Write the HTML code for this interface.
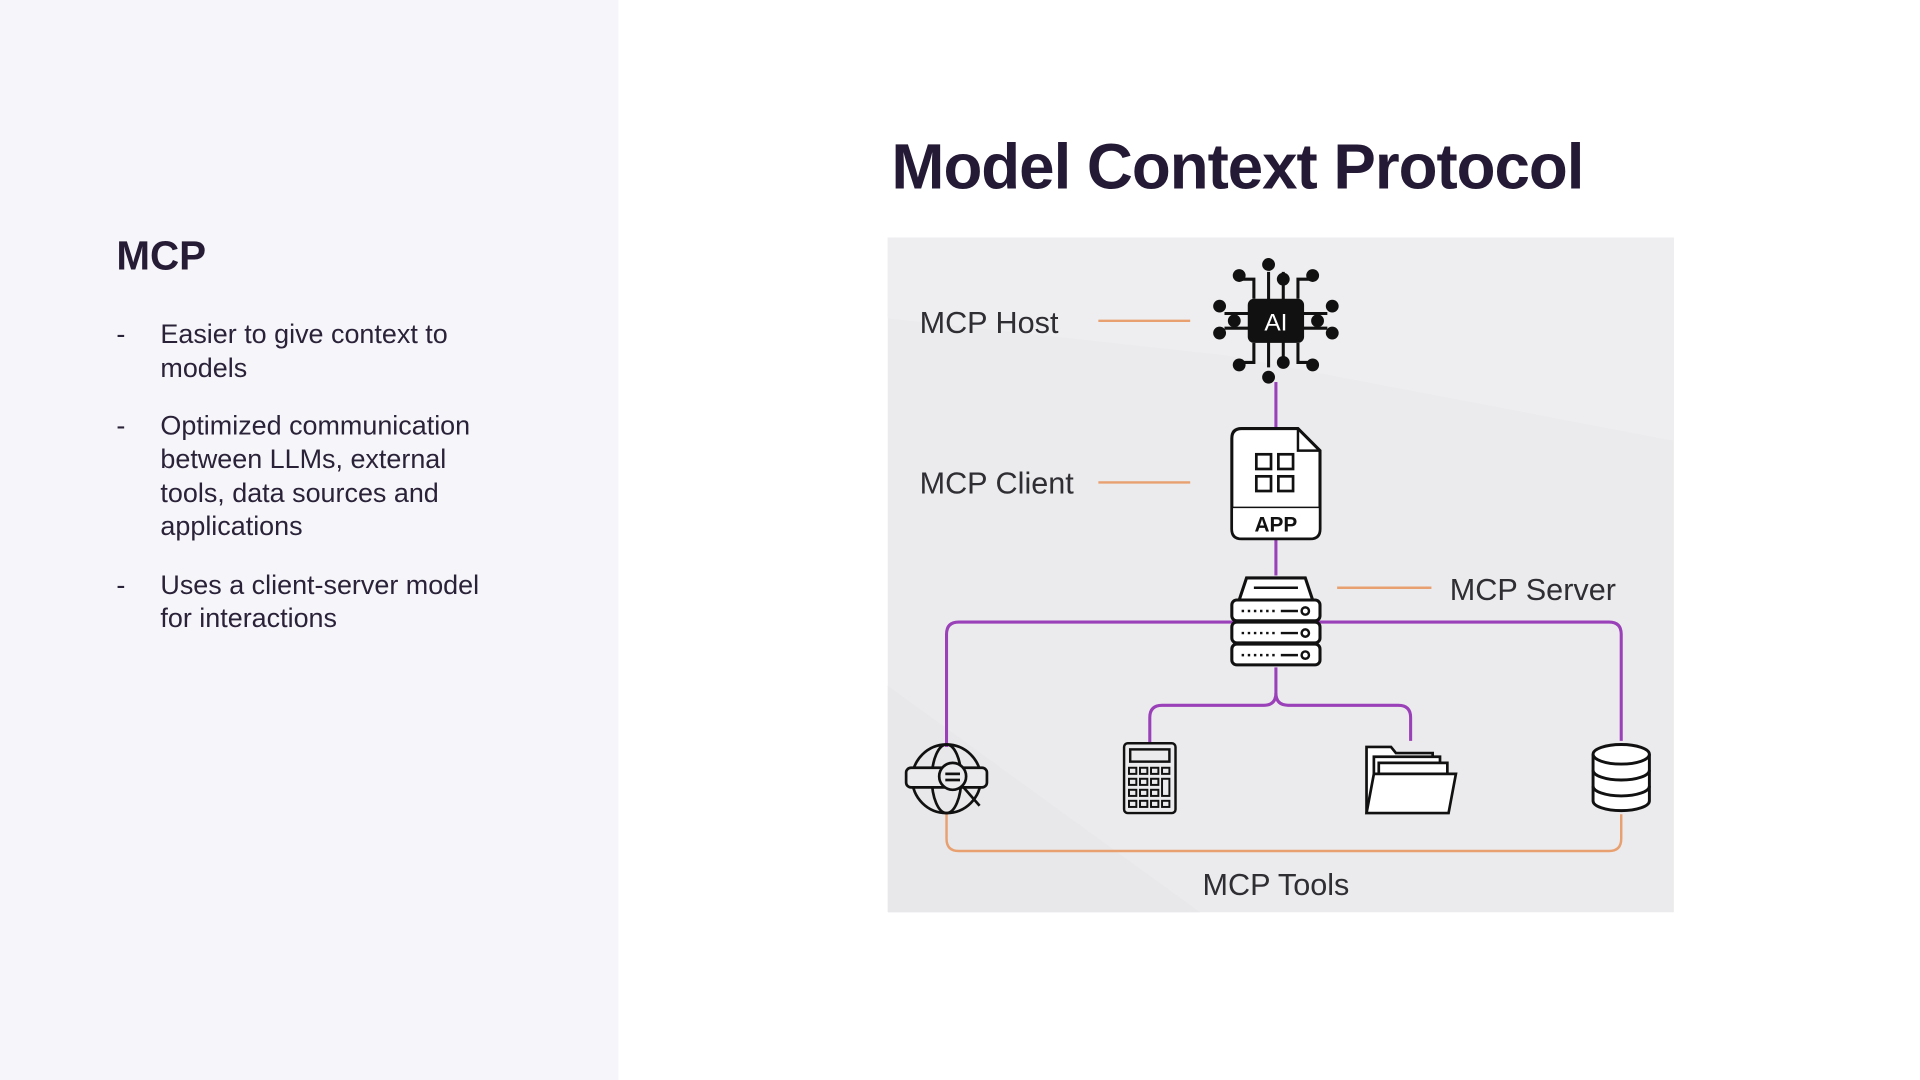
<!DOCTYPE html>
<html><head><meta charset="utf-8"><style>
html,body{margin:0;padding:0;background:#fff;}
svg{display:block;}
text{font-family:"Liberation Sans",sans-serif;}
</style></head><body>
<svg width="1920" height="1080" viewBox="0 0 1568 882" xmlns="http://www.w3.org/2000/svg">
<rect x="0" y="0" width="1568" height="882" fill="#ffffff"/>
<rect x="0" y="0" width="505" height="882" fill="#f6f5f9"/>
<text x="95" y="220" font-size="33" font-weight="bold" fill="#261c36">MCP</text>
<g font-size="22" fill="#2a2238">
<text x="95" y="280">-</text>
<text x="131" y="280">Easier to give context to</text>
<text x="131" y="308">models</text>
<text x="95" y="355">-</text>
<text x="131" y="355">Optimized communication</text>
<text x="131" y="382">between LLMs, external</text>
<text x="131" y="410">tools, data sources and</text>
<text x="131" y="437">applications</text>
<text x="95" y="485">-</text>
<text x="131" y="485">Uses a client-server model</text>
<text x="131" y="512">for interactions</text>
</g>
<text x="728" y="154" font-size="52" font-weight="bold" fill="#241a35" textLength="566">Model Context Protocol</text>

<rect x="725" y="194" width="642" height="551" fill="#ebebed"/>
<polygon points="725,194 1367,194 1367,360 1000,290 725,260" fill="#eeeef0"/>
<polygon points="725,560 980,745 725,745" fill="#e8e8ea"/>

<g font-size="25" fill="#2e2e33">
<text x="751" y="272">MCP Host</text>
<text x="751" y="403">MCP Client</text>
<text x="1184" y="490">MCP Server</text>
<text x="1042" y="731" text-anchor="middle">MCP Tools</text>
</g>
<g stroke="#e8a070" stroke-width="2" fill="none">
<line x1="897" y1="262" x2="972" y2="262"/>
<line x1="897" y1="394" x2="972" y2="394"/>
<line x1="1092" y1="480" x2="1169" y2="480"/>
<path d="M773 665 V685 Q773 695 783 695 H1314 Q1324 695 1324 685 V665"/>
</g>
<g stroke="#9a40b8" stroke-width="2.5" fill="none">
<line x1="1042" y1="312" x2="1042" y2="350"/>
<line x1="1042" y1="440" x2="1042" y2="470"/>
<path d="M773 610 V518 Q773 508 783 508 H1314 Q1324 508 1324 518 V605"/>
<path d="M1042 545 V566 Q1042 576 1032 576 H949 Q939 576 939 586 V607"/>
<path d="M1042 566 Q1042 576 1052 576 H1142 Q1152 576 1152 586 V605"/>
</g>

<!-- AI chip -->
<g stroke="#111" stroke-width="2.5" fill="#111">
<line x1="1036" y1="222" x2="1036" y2="300"/>
<line x1="1048" y1="222" x2="1048" y2="300"/>
<line x1="1000" y1="256" x2="1084" y2="256"/>
<line x1="1000" y1="268" x2="1084" y2="268"/>
<path d="M1024 244 V228 H1012 M1060 244 V228 H1072 M1024 280 V296 H1012 M1060 280 V296 H1072" fill="none"/>
<circle cx="1036" cy="216" r="4"/><circle cx="1048" cy="228" r="4"/>
<circle cx="1012" cy="225" r="4"/><circle cx="1072" cy="225" r="4"/>
<circle cx="1036" cy="308" r="4"/><circle cx="1048" cy="296" r="4"/>
<circle cx="1012" cy="298" r="4"/><circle cx="1072" cy="298" r="4"/>
<circle cx="996" cy="250" r="4"/><circle cx="996" cy="272" r="4"/><circle cx="1008" cy="262" r="4"/>
<circle cx="1088" cy="250" r="4"/><circle cx="1088" cy="272" r="4"/><circle cx="1076" cy="262" r="4"/>
</g>
<rect x="1019" y="244" width="46" height="36" rx="5" fill="#111"/>
<text x="1042" y="270" font-size="20" fill="#fff" text-anchor="middle" font-family="Liberation Mono,monospace">AI</text>

<!-- App file -->
<path d="M1014 350 H1060 L1078 368 V432 Q1078 440 1070 440 H1014 Q1006 440 1006 432 V358 Q1006 350 1014 350 Z" fill="#fff" stroke="#111" stroke-width="2.5"/>
<path d="M1060 350 V368 H1078" fill="none" stroke="#111" stroke-width="2"/>
<line x1="1006" y1="415" x2="1078" y2="415" stroke="#111" stroke-width="2.5"/>
<path d="M1007 415 H1077 V432 Q1077 439 1070 439 H1014 Q1007 439 1007 432 Z" fill="#fff"/>
<g fill="none" stroke="#111" stroke-width="2.2">
<rect x="1026" y="371" width="12" height="12"/><rect x="1044" y="371" width="12" height="12"/>
<rect x="1026" y="389" width="12" height="12"/><rect x="1044" y="389" width="12" height="12"/>
</g>
<text x="1042" y="434" font-size="17" font-weight="bold" fill="#111" text-anchor="middle">APP</text>

<!-- Server -->
<g fill="#fff" stroke="#111" stroke-width="2.5">
<path d="M1012 490 L1018 472 H1066 L1072 490 Z"/>
<rect x="1006" y="490" width="72" height="17" rx="4"/>
<rect x="1006" y="508" width="72" height="17" rx="4"/>
<rect x="1006" y="526" width="72" height="17" rx="4"/>
</g>
<line x1="1024" y1="480" x2="1060" y2="480" stroke="#111" stroke-width="2"/>
<g stroke="#111" stroke-width="2" fill="none">
<path d="M1014 499 H1044 M1014 517 H1044 M1014 535 H1044" stroke-dasharray="2 3"/>
<path d="M1046 499 H1060 M1046 517 H1060 M1046 535 H1060"/>
<circle cx="1066" cy="499" r="3"/><circle cx="1066" cy="517" r="3"/><circle cx="1066" cy="535" r="3"/>
</g>

<!-- Globe -->
<g fill="none" stroke="#111" stroke-width="2.2">
<circle cx="773" cy="636" r="28"/>
<ellipse cx="773" cy="636" rx="12" ry="28"/>
<rect x="740" y="627" width="66" height="16" rx="4" fill="#ebebed"/>
<circle cx="778" cy="634" r="11" fill="#ebebed"/>
<line x1="786" y1="642" x2="800" y2="658"/>
<line x1="772" y1="632" x2="784" y2="632"/><line x1="772" y1="637" x2="784" y2="637"/>
</g>

<!-- Calculator -->
<g fill="none" stroke="#111" stroke-width="2">
<rect x="918" y="607" width="42" height="57" rx="3"/>
<rect x="923" y="612" width="32" height="10"/>
</g>
<g fill="none" stroke="#111" stroke-width="1.6">
<rect x="922" y="627" width="6" height="5"/><rect x="931" y="627" width="6" height="5"/><rect x="940" y="627" width="6" height="5"/><rect x="949" y="627" width="6" height="5"/>
<rect x="922" y="636" width="6" height="5"/><rect x="931" y="636" width="6" height="5"/><rect x="940" y="636" width="6" height="5"/><rect x="949" y="636" width="6" height="14"/>
<rect x="922" y="645" width="6" height="5"/><rect x="931" y="645" width="6" height="5"/><rect x="940" y="645" width="6" height="5"/>
<rect x="922" y="654" width="6" height="5"/><rect x="931" y="654" width="6" height="5"/><rect x="940" y="654" width="6" height="5"/><rect x="949" y="654" width="6" height="5"/>
</g>

<!-- Folder -->
<g fill="#fff" stroke="#111" stroke-width="2.2">
<path d="M1116 664 V610 H1136 L1140 615 H1170 V630"/>
<path d="M1122 664 V618 H1176 V632"/>
<path d="M1126 664 V623 H1182 V632"/>
<path d="M1116 664 L1122 632 H1189 L1183 664 Z"/>
</g>

<!-- Database -->
<g fill="#fff" stroke="#111" stroke-width="2.4">
<path d="M1301 616 V654 A23 8 0 0 0 1347 654 V616"/>
<path d="M1301 629 A23 8 0 0 0 1347 629" fill="none"/>
<path d="M1301 642 A23 8 0 0 0 1347 642" fill="none"/>
<ellipse cx="1324" cy="616" rx="23" ry="8"/>
</g>
</svg>
</body></html>
